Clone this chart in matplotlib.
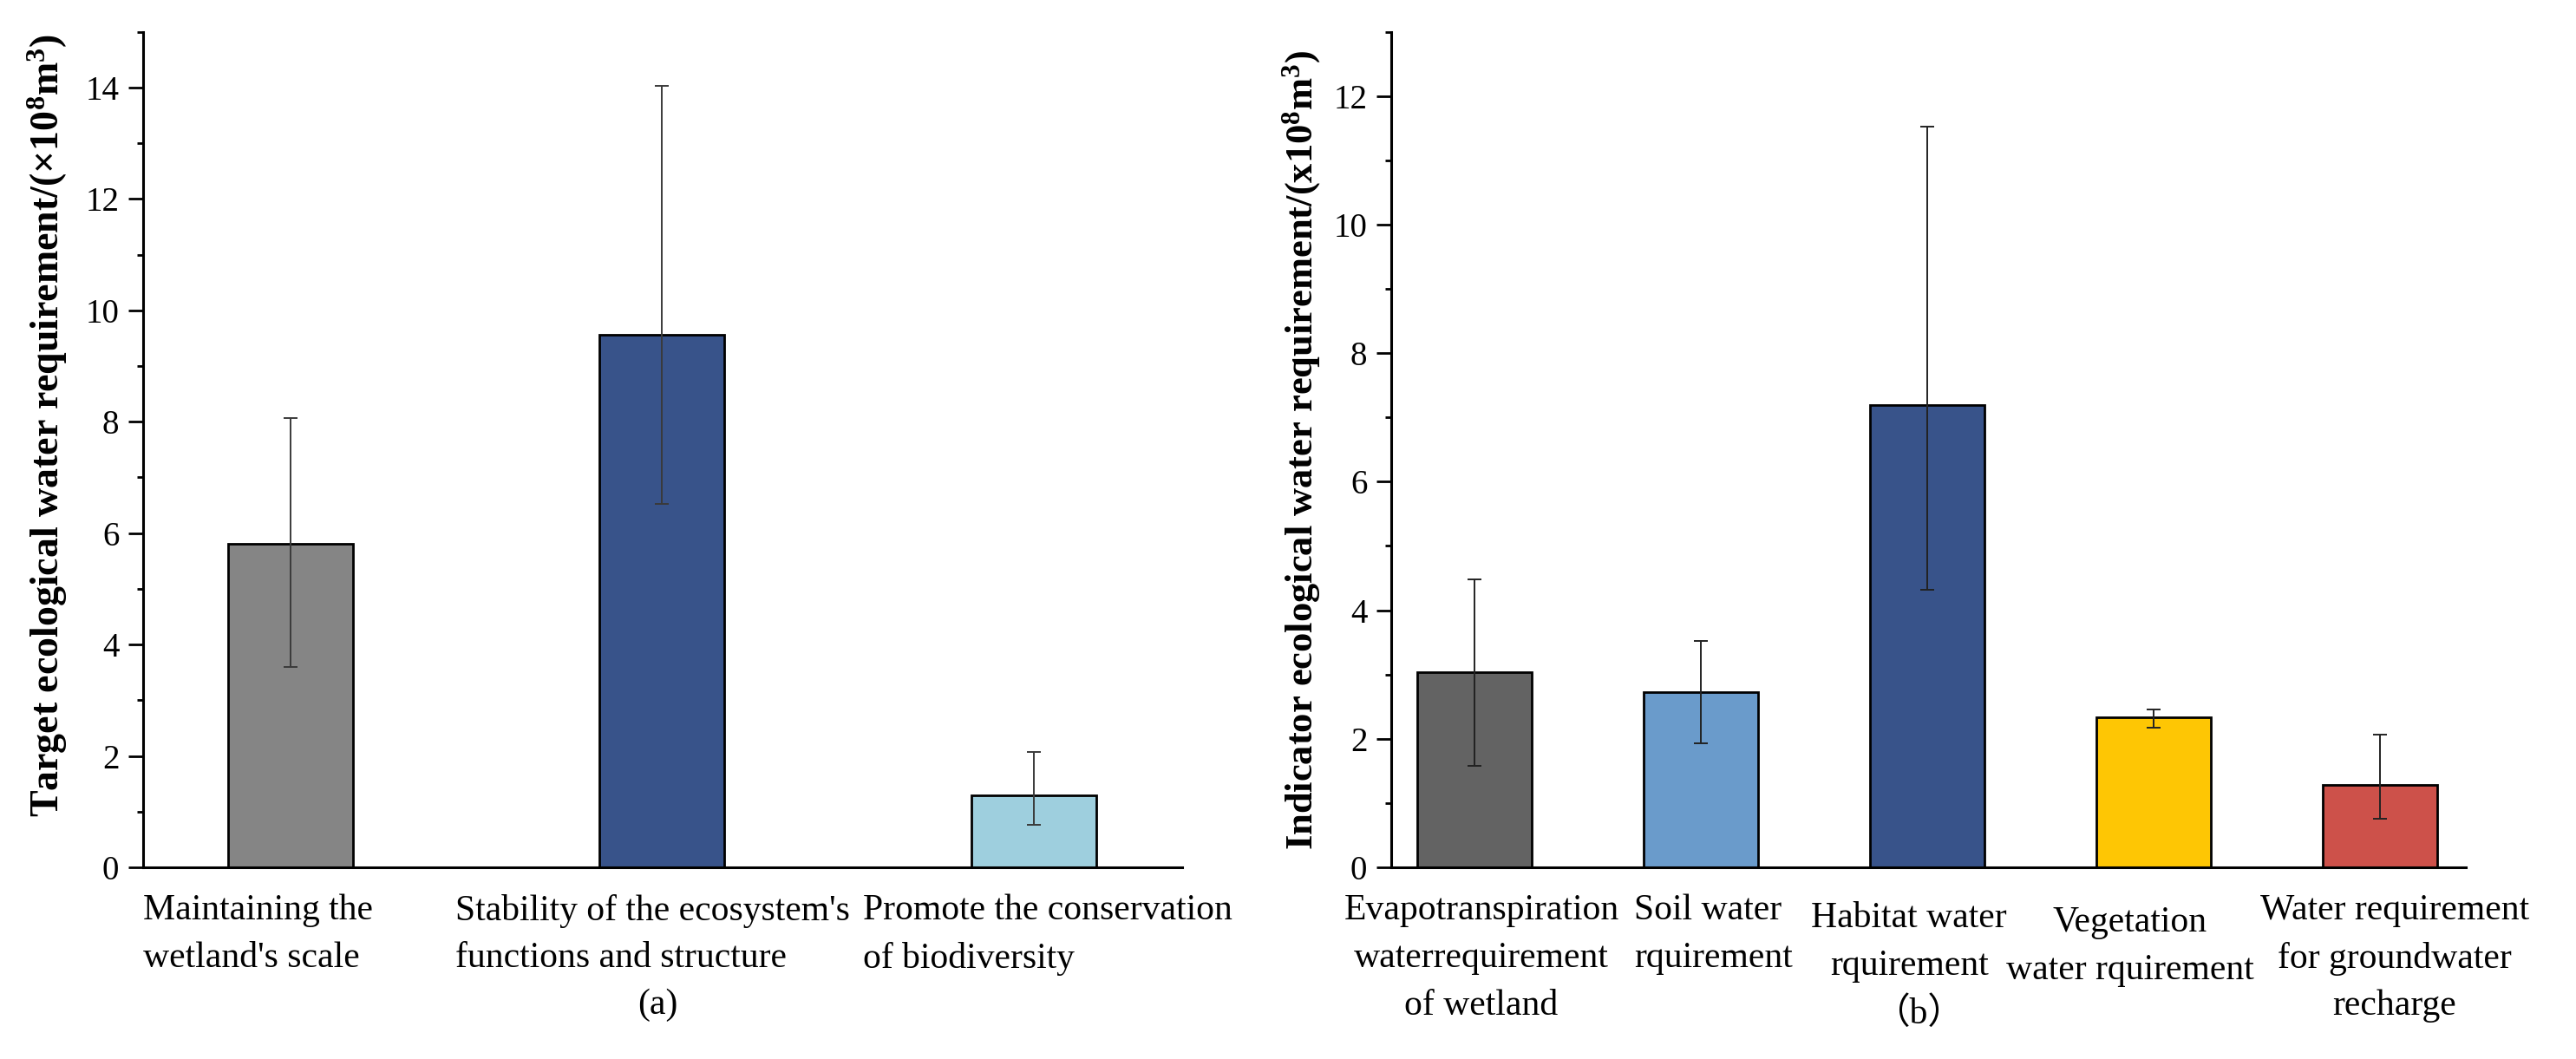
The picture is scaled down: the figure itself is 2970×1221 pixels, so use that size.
import matplotlib
matplotlib.use("Agg")
import matplotlib.pyplot as plt
from matplotlib.ticker import MultipleLocator

plt.rcParams['font.family'] = ['Liberation Serif', 'Noto Sans CJK SC', 'DejaVu Sans']
plt.rcParams['mathtext.default'] = 'regular'

# panel (a): target ecological water requirement
targets = ["Maintaining the\nwetland's scale",
           "Stability of the ecosystem's\nfunctions and structure",
           "Promote the conservation\nof biodiversity"]
target_mean = [5.81, 9.56, 1.30]
target_low = [3.59, 6.53, 0.77]
target_high = [8.07, 14.03, 2.07]
target_colors = ["#858585", "#38538a", "#9ecfde"]

# panel (b): indicator ecological water requirement
indicators = ["Evapotranspiration\nwaterrequirement\nof wetland",
              "Soil water\nrquirement",
              "Habitat water\nrquirement",
              "Vegetation\nwater rquirement",
              "Water requirement\nfor groundwater\nrecharge"]
indicator_mean = [3.04, 2.72, 7.19, 2.33, 1.28]
indicator_low = [1.58, 1.93, 4.32, 2.17, 0.76]
indicator_high = [4.48, 3.52, 11.52, 2.45, 2.06]
indicator_colors = ["#636363", "#6a9bcb", "#38538a", "#fec604", "#cd514a"]

# label placement tweaks (x shift in bar units, drop in points, alignment)
target_dx = [-0.397, -0.556, -0.460]
indicator_dx = [0.03, -0.295, -0.08, -0.103, 0.065]
indicator_drop = [22, 22, 28.5, 32, 22]
indicator_ha = ['center', 'left', 'center', 'center', 'center']

fig = plt.figure(figsize=(29.7, 12.21), dpi=100)
ax1 = fig.add_axes([0.0556, 0.181, 0.4033, 0.789])
ax2 = fig.add_axes([0.5401, 0.181, 0.4171, 0.789])


def style_axis(ax, ymax):
    for s in ['top', 'right']:
        ax.spines[s].set_visible(False)
    for s in ['left', 'bottom']:
        ax.spines[s].set_linewidth(2.2)
    ax.set_ylim(0, ymax)
    ax.yaxis.set_major_locator(MultipleLocator(2))
    ax.yaxis.set_minor_locator(MultipleLocator(1))
    ax.tick_params(axis='y', which='major', direction='out', length=12, width=2,
                   labelsize=28, pad=8)
    ax.tick_params(axis='y', which='minor', direction='out', length=5, width=2)
    ax.set_xticks([])


def errs(mean, low, high):
    return [[m - l for m, l in zip(mean, low)], [h - m for m, h in zip(mean, high)]]


def put_label(ax, x, text, drop, ha, malign):
    ax.annotate(text, xy=(x, 0), xycoords=('data', 'axes fraction'),
                xytext=(0, -drop), textcoords='offset points',
                ha=ha, va='top', multialignment=malign,
                fontsize=30, linespacing=1.55, annotation_clip=False)


# left panel
x1 = range(len(targets))
ax1.bar(x1, target_mean, width=0.336, color=target_colors, edgecolor='black', linewidth=2,
        yerr=errs(target_mean, target_low, target_high),
        error_kw=dict(ecolor='#3a3a3a', elinewidth=1.4, capsize=6, capthick=1.4))
style_axis(ax1, 15)
ax1.set_xlim(-0.397, 2.40)
for i, lab in enumerate(targets):
    put_label(ax1, i + target_dx[i] if i else target_dx[i], lab, 22, 'left', 'left')
ax1.set_ylabel("Target ecological water requirement/(×10$^{8}$m$^{3}$)",
               fontsize=33, fontweight='bold')
ax1.yaxis.set_label_coords(-0.071, 0.529)
fig.text(758 / 2970, 1 - 1159 / 1221, "(a)", fontsize=30, ha='center', va='center')

# right panel
x2 = range(len(indicators))
ax2.bar(x2, indicator_mean, width=0.505, color=indicator_colors, edgecolor='black', linewidth=2,
        yerr=errs(indicator_mean, indicator_low, indicator_high),
        error_kw=dict(ecolor='#222222', elinewidth=1.4, capsize=6, capthick=1.4))
style_axis(ax2, 13)
ax2.set_xlim(-0.368, 4.38)
for i, lab in enumerate(indicators):
    put_label(ax2, i + indicator_dx[i], lab, indicator_drop[i], indicator_ha[i],
              'left' if indicator_ha[i] == 'left' else 'center')
ax2.set_ylabel("Indicator ecological water requirement/(x10$^{8}$m$^{3}$)",
               fontsize=32, fontweight='bold')
ax2.yaxis.set_label_coords(-0.064, 0.499)
fig.text(2212 / 2970, 1 - 1169 / 1221, "（b）", fontsize=30, ha='center', va='center')

fig.savefig("out.png", dpi=100)
